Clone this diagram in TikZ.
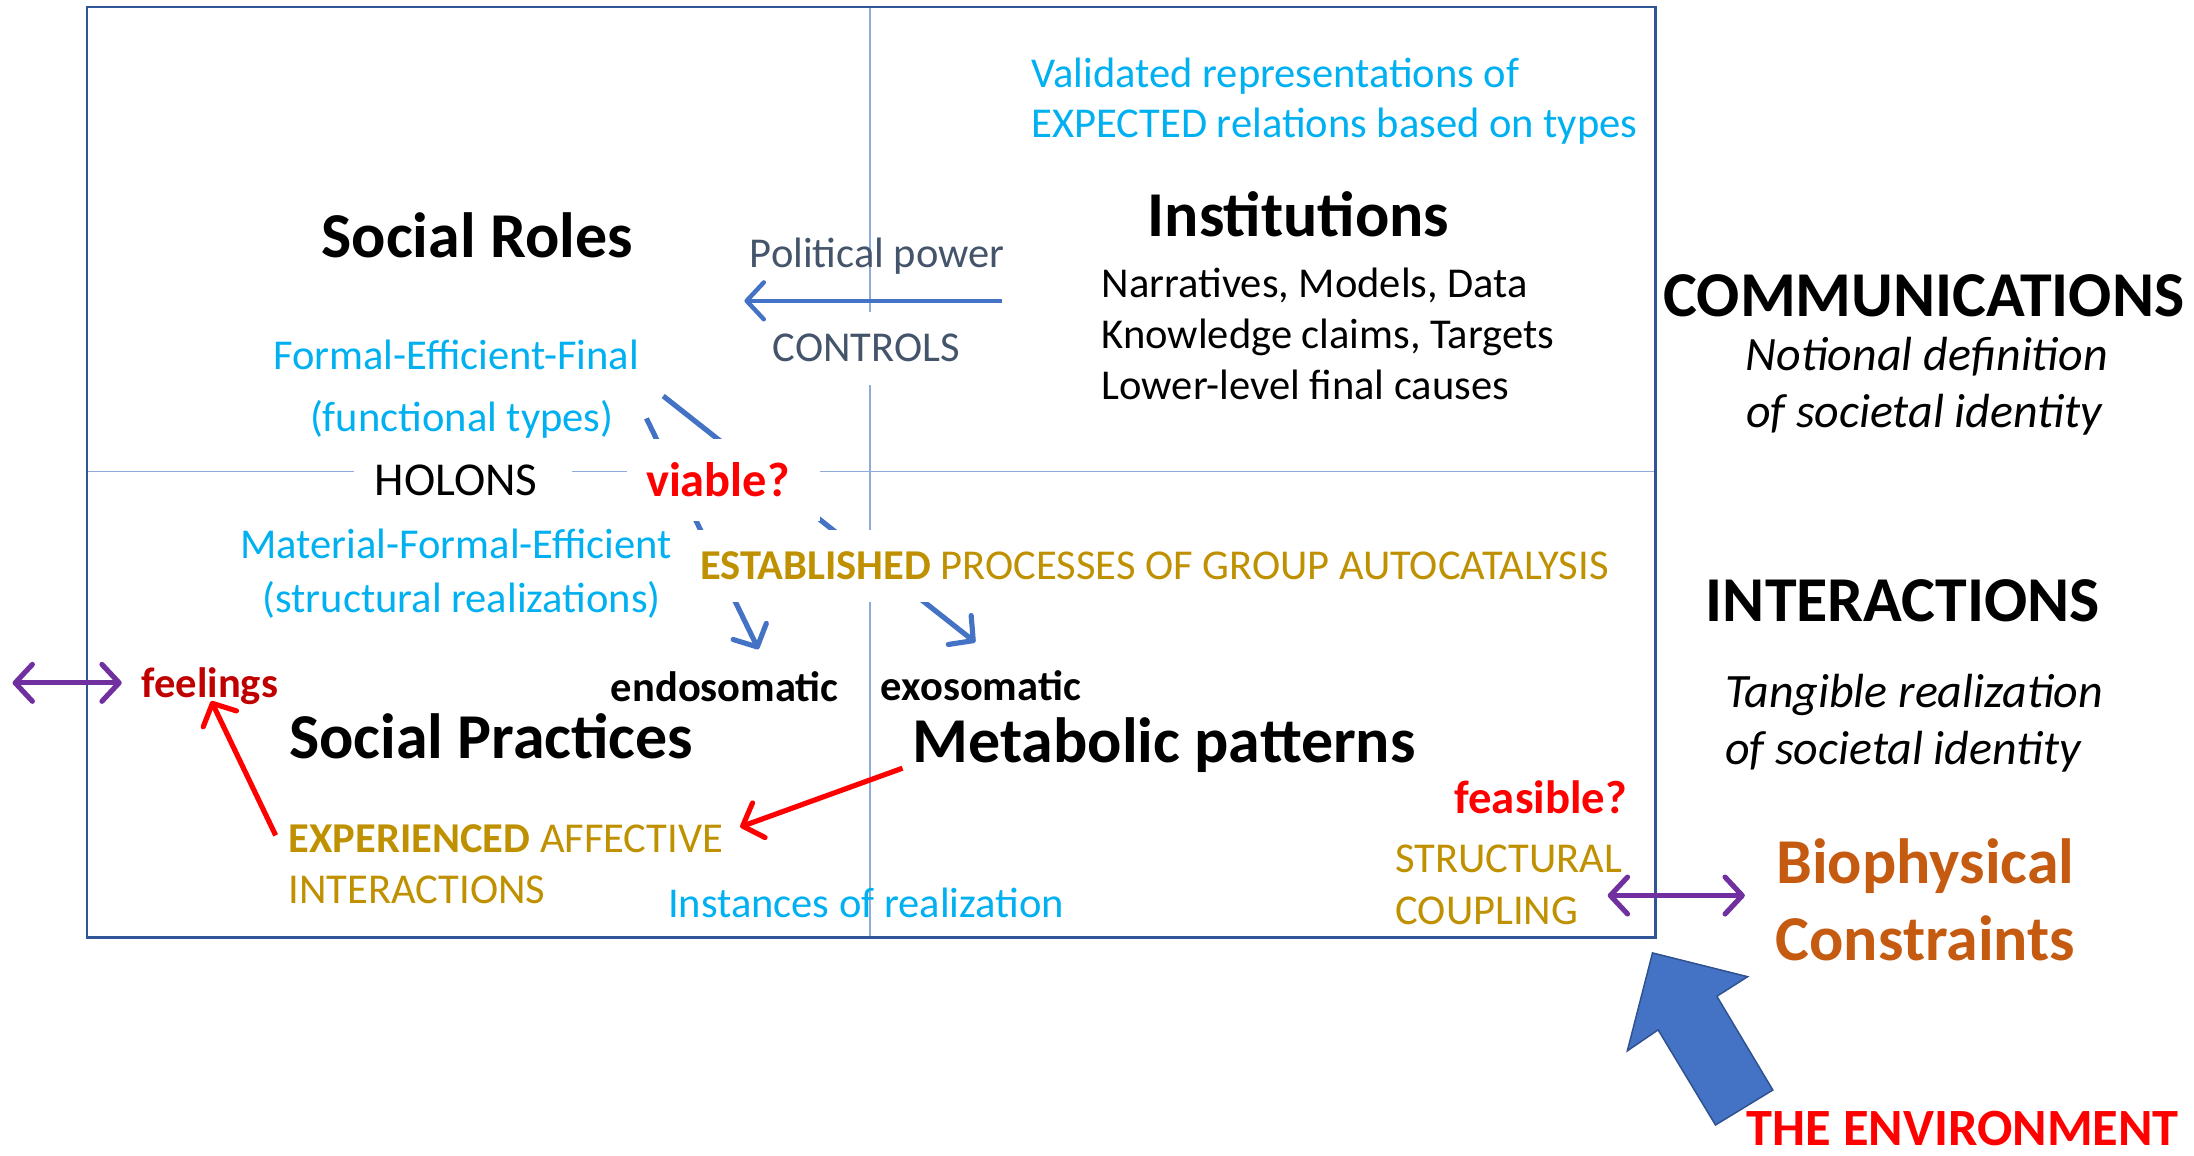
\documentclass[tikz,border=0pt]{standalone}
\usepackage{fontspec}
\setmainfont{Carlito}
\usetikzlibrary{arrows.meta}
\definecolor{lblue}{HTML}{00B0F0}
\definecolor{gold}{HTML}{BF9000}
\definecolor{frameblue}{HTML}{2F5597}
\definecolor{divblue}{HTML}{8FAADC}
\definecolor{arrblue}{HTML}{4472C4}
\definecolor{arrborder}{HTML}{2F528F}
\definecolor{slate}{HTML}{44546A}
\definecolor{darkred}{HTML}{C00000}
\definecolor{purp}{HTML}{7030A0}
\definecolor{orng}{HTML}{C55A11}
\pgfdeclarelayer{bg}
\pgfdeclarelayer{mask}
\pgfsetlayers{bg,mask,main}
\newcommand\fsz[1]{\fontsize{#1}{#1}\selectfont}
\tikzset{
  txt/.style={inner sep=0pt, text depth=0pt},
  body/.style={txt, text height=10.7pt, font=\fsz{17.3}},
  bodyb/.style={txt, text height=10.7pt, font=\fsz{17.3}\bfseries},
  mid/.style={txt, text height=11.9pt, font=\fsz{19.2}},
  midb/.style={txt, text height=12.2pt, font=\fsz{19.7}\bfseries},
  feasb/.style={txt, text height=11.8pt, font=\fsz{19}\bfseries},
  ttl/.style={txt, text height=16.1pt, font=\fsz{26}\bfseries},
  ital/.style={txt, text height=12.1pt, font=\fsz{19.5}\itshape},
  envs/.style={txt, text height=13.2pt, font=\fsz{21.3}\bfseries},
  chev/.style={line width=2.1pt, -{Straight Barb[length=7pt,width=15pt,round]}},
  dchev/.style={line width=2.1pt, {Straight Barb[length=7pt,width=15pt,round]}-{Straight Barb[length=7pt,width=15pt,round]}},
  divider/.style={divblue, line width=0.7pt},
}
\begin{document}
\begin{tikzpicture}[x=0.02cm, y=-0.02cm]
\useasboundingbox (0,0) rectangle (1568,826);

% ---------- texts ----------
\node[body, anchor=west, text=lblue] (val1) at (737,53) {Validated representations of};
\node[body, anchor=west, text=lblue] (val2) at (737,89) {EXPECTED relations based on types};
\node[ttl] (inst) at (928,155) {Institutions};
\node[body, anchor=west] (nar1) at (787,203) {Narratives, Models, Data};
\node[body, anchor=west] (nar2) at (787,240) {Knowledge claims, Targets};
\node[body, anchor=west] (nar3) at (787,276) {Lower-level final causes};
\node[body, text=slate] (pp) at (627,182) {Political power};
\node[body, text=slate] (ctl) at (619,249) {CONTROLS};

\node[ttl] (sroles) at (341,170) {Social Roles};
\node[body, text=lblue] (ffe) at (326,255) {Formal-Efficient-Final};
\node[body, text=lblue] (ftypes) at (330,299) {(functional types)};
\node[mid] (holons) at (326,344) {HOLONS};
\node[midb, text=red] (viable) at (513,344) {viable?};
\node[body, text=lblue] (mfe) at (326,390) {Material-Formal-Efficient};
\node[body, text=lblue] (sreal) at (330,428) {(structural realizations)};
\node[body, anchor=west, text=gold] (estab) at (500,405) {\textbf{ESTABLISHED} PROCESSES OF GROUP AUTOCATALYSIS};

\node[bodyb] (endo) at (518,492) {endosomatic};
\node[bodyb] (exo) at (701,491) {exosomatic};
\node[ttl] (spract) at (351,528) {Social Practices};
\node[ttl] (metab) at (832,531) {Metabolic patterns};
\node[bodyb, text=darkred] (feel) at (150,489) {feelings};
\node[body, anchor=west, text=gold] (exp1) at (206,600) {\textbf{EXPERIENCED} AFFECTIVE};
\node[body, anchor=west, text=gold] (exp2) at (206,636) {INTERACTIONS};
\node[body, text=lblue] (inrl) at (619,646) {Instances of realization};
\node[feasb, text=red, anchor=east] (feas) at (1163,571) {feasible?};
\node[body, anchor=west, text=gold] (struct) at (997,614) {STRUCTURAL};
\node[body, anchor=west, text=gold] (coup) at (997,651) {COUPLING};

\node[ttl] (comm) at (1375,212) {COMMUNICATIONS};
\node[ital] (not1) at (1377,254) {Notional definition};
\node[ital] (not2) at (1375,295) {of societal identity};
\node[ttl] (inter) at (1360,430) {INTERACTIONS};
\node[ital] (tan1) at (1368,495) {Tangible realization};
\node[ital] (tan2) at (1360,536) {of societal identity};
\node[ttl, text=orng] (bio1) at (1376,617) {Biophysical};
\node[ttl, text=orng] (bio2) at (1376,672) {Constraints};
\node[envs, text=red, anchor=west] (env) at (1248,807) {THE ENVIRONMENT};

% ---------- connector end points ----------
\coordinate (ctlR) at (716,215);
\coordinate (ctlL) at (532,215);
\coordinate (aS) at (462,299);
\coordinate (aE) at (542,464);
\coordinate (bS) at (474,283);
\coordinate (bE) at (697,459);
\coordinate (mS) at (645,549);
\coordinate (mE) at (529,591);
\coordinate (eS) at (197,597);
\coordinate (eE) at (151,501);
\coordinate (pL1) at (9,488);
\coordinate (pL2) at (87,488);
\coordinate (pR1) at (1149,640);
\coordinate (pR2) at (1247,640);

% ---------- background lines ----------
\begin{pgfonlayer}{bg}
  \draw[divider] (622,5) -- (622,670);
  \draw[divider] (62,337) -- (1183,337);
  \draw[arrblue, chev] (aS) -- (aE);
  \draw[arrblue, chev] (bS) -- (bE);
\end{pgfonlayer}

% ---------- white masks behind labels ----------
\begin{pgfonlayer}{mask}
  \fill[white] (560,223) rectangle (680,275);
  \fill[white] (253,322) rectangle (409,364);
  \fill[white] (448,314) rectangle (586,372);
  \fill[white] (495,379) rectangle (1160,430);
\end{pgfonlayer}

% ---------- frame ----------
\draw[frameblue, line width=1pt] (62,5) rectangle (1183,670);

% ---------- arrows ----------
\draw[arrblue, chev, line width=1.8pt] (ctlR) -- (ctlL);
\draw[red, chev] (mS) -- (mE);
\draw[red, chev] (eS) -- (eE);
\draw[purp, dchev] (pL1) -- (pL2);
\draw[purp, dchev] (pR1) -- (pR2);

% ---------- block arrow (the environment) ----------
\draw[fill=arrblue, draw=arrborder, line width=0.6pt, line join=miter]
  (1181,681) -- (1249,698) -- (1227,712) -- (1267,779) -- (1226,804)
  -- (1185,736) -- (1163,751) -- cycle;
\end{tikzpicture}
\end{document}
